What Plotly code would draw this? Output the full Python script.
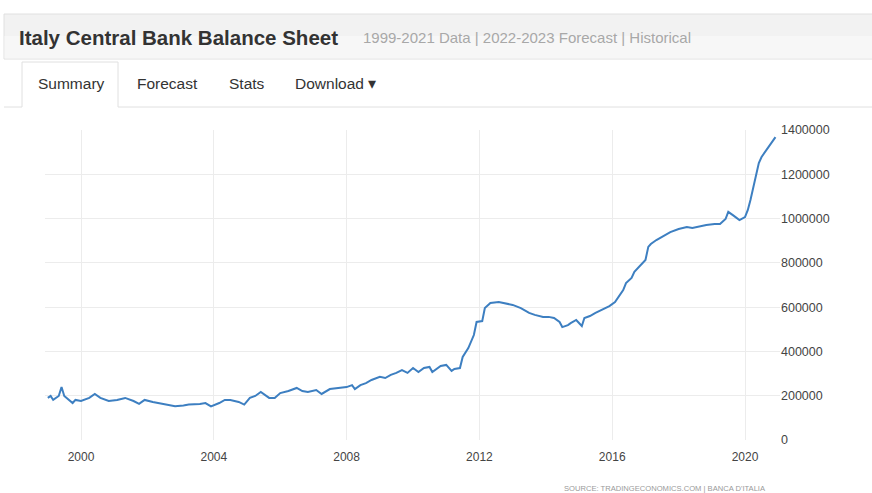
import plotly.graph_objects as go

# ---- data ----
dates = [
    "1999-01", "1999-02", "1999-03", "1999-05", "1999-06", "1999-07", "1999-10", "1999-11",
    "2000-01", "2000-04", "2000-06", "2000-08", "2000-11",
    "2001-02", "2001-05", "2001-08", "2001-10", "2001-12",
    "2002-03", "2002-05", "2002-09", "2002-11",
    "2003-02", "2003-04", "2003-08", "2003-10", "2003-12",
    "2004-03", "2004-05", "2004-07", "2004-10", "2004-12",
    "2005-02", "2005-04", "2005-06", "2005-09", "2005-11",
    "2006-01", "2006-04", "2006-07", "2006-09", "2006-11",
    "2007-02", "2007-04", "2007-07", "2007-10",
    "2008-01", "2008-03", "2008-04", "2008-06", "2008-08", "2008-10",
    "2009-01", "2009-03", "2009-05", "2009-07", "2009-09", "2009-11",
    "2010-01", "2010-03", "2010-05", "2010-07", "2010-08", "2010-11",
    "2011-01", "2011-03", "2011-04", "2011-06", "2011-07", "2011-09", "2011-11", "2011-12",
    "2012-02", "2012-03", "2012-04", "2012-05", "2012-08", "2012-10",
    "2013-01", "2013-04", "2013-07", "2013-09", "2013-12",
    "2014-02", "2014-04", "2014-06", "2014-07", "2014-09", "2014-10", "2014-12",
    "2015-02", "2015-03", "2015-05", "2015-07", "2015-09", "2015-12",
    "2016-02", "2016-03", "2016-05", "2016-06", "2016-08", "2016-09", "2016-11",
    "2017-01", "2017-02", "2017-03", "2017-05", "2017-07", "2017-09", "2017-10",
    "2018-01", "2018-04", "2018-06", "2018-08", "2018-11",
    "2019-02", "2019-04", "2019-06", "2019-07", "2019-09", "2019-11",
    "2020-01", "2020-02", "2020-03", "2020-04", "2020-05", "2020-06",
    "2020-07", "2020-08", "2020-09", "2020-10", "2020-11", "2020-12",
]
balance = [
    190000, 199000, 181000, 199000, 239000, 199000, 167000, 181000,
    176000, 190000, 208000, 190000, 176000,
    181000, 190000, 176000, 163000, 181000,
    172000, 167000, 158000, 152000,
    156000, 160000, 163000, 167000, 152000,
    167000, 181000, 181000, 172000, 160000,
    190000, 199000, 217000, 190000, 190000,
    212000, 221000, 235000, 221000, 217000,
    226000, 208000, 230000, 235000,
    239000, 248000, 230000, 248000, 257000, 271000,
    285000, 280000, 294000, 303000, 316000, 303000,
    325000, 307000, 325000, 330000, 307000, 334000,
    339000, 312000, 321000, 325000, 375000, 415000, 474000, 533000,
    537000, 596000, 610000, 619000, 623000, 619000,
    610000, 596000, 574000, 565000, 556000,
    556000, 551000, 533000, 510000, 519000, 528000, 542000,
    515000, 551000, 560000, 574000, 587000, 605000,
    623000, 641000, 677000, 709000, 732000, 759000, 786000,
    813000, 872000, 885000, 903000, 917000, 930000, 939000,
    953000, 962000, 957000, 962000, 971000,
    975000, 975000, 998000, 1030000, 1012000, 993000,
    1007000, 1039000, 1084000, 1143000, 1197000, 1251000,
    1278000, 1296000, 1319000, 1332000, 1350000, 1368000,
]
y_ticks = [0, 200000, 400000, 600000, 800000, 1000000, 1200000, 1400000]

# ---- layout geometry (pixels) ----
W, H = 872, 493
L, R, T, B = 45, 92, 130, 53
pw, ph = W - L - R, H - T - B


def px(x):
    return (x - L) / pw


def py(y):
    return (H - B - y) / ph


FONT = "Liberation Sans, Arial"

fig = go.Figure()
fig.add_trace(go.Scatter(
    x=dates, y=balance, mode="lines",
    line=dict(color="#3d7fc1", width=2),
    hoverinfo="x+y", showlegend=False,
))

shapes = [
    # title bar
    dict(type="rect", xref="paper", yref="paper", x0=px(4), x1=px(W + 5), y0=py(59), y1=py(14),
         fillcolor="#f2f2f2", line=dict(color="#e0e0e0", width=1), layer="below"),
    dict(type="rect", xref="paper", yref="paper", x0=px(4.5), x1=px(W + 5), y0=py(58.5), y1=py(36),
         fillcolor="#f7f7f7", line=dict(width=0), layer="below"),
    # tab row bottom border
    dict(type="line", xref="paper", yref="paper", x0=px(118), x1=px(W + 5), y0=py(107), y1=py(107),
         line=dict(color="#e0e0e0", width=1)),
    dict(type="line", xref="paper", yref="paper", x0=px(4), x1=px(22), y0=py(107), y1=py(107),
         line=dict(color="#e0e0e0", width=1)),
    # active tab borders
    dict(type="line", xref="paper", yref="paper", x0=px(22), x1=px(22), y0=py(107), y1=py(62),
         line=dict(color="#e0e0e0", width=1)),
    dict(type="line", xref="paper", yref="paper", x0=px(118), x1=px(118), y0=py(107), y1=py(62),
         line=dict(color="#e0e0e0", width=1)),
    dict(type="line", xref="paper", yref="paper", x0=px(22), x1=px(118), y0=py(62), y1=py(62),
         line=dict(color="#e0e0e0", width=1)),
]

ann = [
    dict(text="<b>Italy Central Bank Balance Sheet</b>", x=px(17), y=py(38), xanchor="left", yanchor="middle",
         font=dict(family=FONT, size=20.5, color="#333333")),
    dict(text="1999-2021 Data | 2022-2023 Forecast | Historical", x=px(361), y=py(38), xanchor="left",
         yanchor="middle", font=dict(family=FONT, size=15, color="#a8a8a8")),
    dict(text="Summary", x=px(36), y=py(84), xanchor="left", yanchor="middle",
         font=dict(family=FONT, size=15.5, color="#333333")),
    dict(text="Forecast", x=px(135), y=py(84), xanchor="left", yanchor="middle",
         font=dict(family=FONT, size=15.5, color="#333333")),
    dict(text="Stats", x=px(227), y=py(84), xanchor="left", yanchor="middle",
         font=dict(family=FONT, size=15.5, color="#333333")),
    dict(text="Download ▾", x=px(293), y=py(84), xanchor="left", yanchor="middle",
         font=dict(family=FONT, size=15.5, color="#333333")),
    dict(text="SOURCE: TRADINGECONOMICS.COM | BANCA D'ITALIA", x=px(768), y=py(489), xanchor="right",
         yanchor="middle", font=dict(family=FONT, size=7.6, color="#9a9a9a")),
]
for a in ann:
    a.update(xref="paper", yref="paper", showarrow=False)

fig.update_layout(
    width=W, height=H,
    margin=dict(l=L, r=R, t=T, b=B, pad=0),
    paper_bgcolor="white", plot_bgcolor="white",
    shapes=shapes, annotations=ann,
    font=dict(family=FONT, color="#444444"),
    xaxis=dict(
        type="date", range=["1998-12-01", "2021-01-20"],
        tick0="2000-01-01", dtick="M48", tickformat="%Y",
        showgrid=True, gridcolor="#ececec", gridwidth=1,
        zeroline=False, showline=False, ticks="",
        ticklabelstandoff=8, tickfont=dict(size=12, color="#444444"),
    ),
    yaxis=dict(
        side="right", range=[0, 1400000], tickvals=y_ticks,
        ticktext=[str(v) for v in y_ticks],
        showgrid=True, gridcolor="#ececec", gridwidth=1,
        zeroline=False, showline=False, ticks="",
        tickfont=dict(size=12.5, color="#444444"),
    ),
)

fig.write_html("out.html")
